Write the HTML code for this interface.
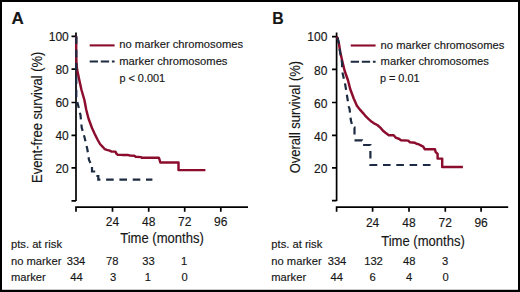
<!DOCTYPE html>
<html><head><meta charset="utf-8">
<style>
html,body{margin:0;padding:0;background:#fff;}
body{width:520px;height:292px;overflow:hidden;}
svg{display:block;font-family:"Liberation Sans",sans-serif;}
text{fill:#161616;stroke:#161616;stroke-width:0.15px;}
.tk{font-size:12px;}
.tt{font-size:14.5px;}
.lg{font-size:11.2px;}
.rk{font-size:11.2px;}
.pl{font-size:17px;font-weight:bold;}
.ax{stroke:#000;stroke-width:1.7;fill:none;}
</style></head>
<body>
<svg width="520" height="292" viewBox="0 0 520 292">
<rect x="0" y="0" width="520" height="292" fill="#fff"/>

<!-- ================= PANEL A ================= -->
<text class="pl" x="11.5" y="23.8">A</text>

<path class="ax" d="M76,32.5 V201 M71.5,36.3 H76 M71.5,69.2 H76 M71.5,102.5 H76 M71.5,135.4 H76 M71.5,167.8 H76 M71.5,200.9 H76"/>
<path class="ax" d="M76,211.8 V207.2 H248 M112.5,207.2 V211.8 M148.7,207.2 V211.8 M184.7,207.2 V211.8 M220.8,207.2 V211.8"/>

<path d="M76.20,36.30 L76.20,55.00 L76.60,65.00 L77.10,69.60 L79.30,80.00 L81.50,90.00 L84.40,100.00 L86.30,110.00 L88.50,118.50 L92.00,128.00 L94.50,133.50 L97.50,139.50 L100.00,144.00 L102.70,146.80 L104.80,149.20 L106.80,149.90 L109.60,150.60 L111.60,151.60 L115.40,151.60 L116.40,153.60 L117.50,154.70 L121.90,154.90 L127.40,154.90 L130.00,155.50 L134.20,155.70 L135.70,156.80 L141.10,157.10 L141.80,157.80 L158.80,157.80 L159.50,159.50 L160.30,162.40 L178.50,162.40 L178.50,170.10 L205.40,170.10" fill="none" stroke="#8c0c2e" stroke-width="2.45" stroke-linejoin="round"/>
<path d="M76.30,36.50 L76.30,44.10 M76.30,49.80 L76.30,57.40 M76.30,63.10 L76.30,70.70 M76.30,76.40 L76.30,84.00 M76.30,89.70 L76.30,97.30 M77.30,102.00 L78.30,106.00 L78.81,108.09 M79.93,112.67 L80.50,115.00 L80.91,119.29 M81.41,124.49 L81.70,127.50 L82.66,130.84 M83.92,135.28 L84.70,138.00 L85.48,141.32 M86.57,145.93 L87.30,149.00 L87.81,152.29 M88.57,157.23 L89.00,160.00 L90.47,162.93 M92.00,167.10 L92.00,171.50 L95.20,171.50 M96.40,176.00 L98.30,176.00 L98.30,179.60 L100.40,179.60 M106.10,179.60 L113.70,179.60 M119.40,179.60 L127.00,179.60 M132.70,179.60 L140.30,179.60 M146.00,179.60 L152.40,179.60" fill="none" stroke="#1c2b42" stroke-width="2.2" stroke-linejoin="miter"/>

<g class="tk" text-anchor="end">
<text x="68.8" y="41">100</text>
<text x="68.8" y="74.1">80</text>
<text x="68.8" y="107.4">60</text>
<text x="68.8" y="140.4">40</text>
<text x="68.8" y="172.7">20</text>
</g>
<g class="tk" text-anchor="middle">
<text x="112.5" y="225.7">24</text>
<text x="148.7" y="225.7">48</text>
<text x="184.7" y="225.7">72</text>
<text x="220.8" y="225.7">96</text>
</g>
<text class="tt" transform="translate(162,243.2) scale(0.9,1)" text-anchor="middle">Time (months)</text>
<text class="tt" transform="translate(41.8,117.3) rotate(-90) scale(0.897,1)" text-anchor="middle">Event-free survival (%)</text>

<line x1="89.7" y1="45.4" x2="114.6" y2="45.4" stroke="#8c0c2e" stroke-width="2.1"/>
<line x1="89.7" y1="61.5" x2="114.6" y2="61.5" stroke="#1c2b42" stroke-width="2.1" stroke-dasharray="8.3 2.8"/>
<g class="lg">
<text x="119.3" y="48">no marker chromosomes</text>
<text x="119.3" y="65">marker chromosomes</text>
<text x="119.4" y="82.2" style="font-size:10.9px">p &lt; 0.001</text>
</g>

<g class="rk">
<text x="11" y="247.7">pts. at risk</text>
<text x="11" y="264.5">no marker</text>
<text x="11" y="281.2">marker</text>
</g>
<g class="rk" text-anchor="middle">
<text x="76" y="264.5">334</text>
<text x="112.3" y="264.5">78</text>
<text x="148.5" y="264.5">33</text>
<text x="184.1" y="264.5">1</text>
<text x="76.6" y="281.2">44</text>
<text x="113.1" y="281.2">3</text>
<text x="147.9" y="281.2">1</text>
<text x="184.5" y="281.2">0</text>
</g>

<!-- ================= PANEL B ================= -->
<text class="pl" transform="translate(272.3,23.8) scale(0.93,1)">B</text>

<path class="ax" d="M336.6,32.5 V201 M332,36.6 H336.6 M332,69.4 H336.6 M332,102.5 H336.6 M332,135.4 H336.6 M332,167.8 H336.6 M332,200.7 H336.6"/>
<path class="ax" d="M336.6,211.8 V207.2 H508.2 M372.6,207.2 V211.8 M409,207.2 V211.8 M445.3,207.2 V211.8 M481.1,207.2 V211.8"/>

<path d="M336.60,36.60 L337.50,38.00 L339.00,44.00 L340.20,52.00 L342.50,62.00 L344.70,71.00 L347.90,80.00 L350.20,89.00 L353.70,98.50 L356.90,105.80 L360.20,109.90 L363.50,113.60 L365.10,115.60 L368.40,118.90 L371.70,121.80 L374.00,123.30 L377.30,125.00 L380.60,127.90 L383.00,130.70 L385.50,132.80 L388.80,135.30 L393.70,135.30 L395.80,137.70 L399.30,139.00 L400.90,140.20 L408.30,140.60 L410.00,142.30 L414.90,142.70 L416.50,143.80 L418.00,144.00 L420.30,145.20 L423.20,146.70 L424.70,149.20 L435.00,149.20 L435.50,151.80 L437.10,153.40 L437.60,154.00 L437.60,158.60 L442.20,158.60 L442.20,167.00 L462.90,167.00" fill="none" stroke="#8c0c2e" stroke-width="2.45" stroke-linejoin="round"/>
<path d="M337.52,37.58 L338.94,43.76 M339.68,48.72 L340.30,53.00 L340.71,55.29 M341.57,60.12 L342.00,62.50 L342.15,67.15 M342.43,72.57 L343.86,78.74 M344.93,83.37 L345.30,85.00 L346.07,89.83 M346.84,94.76 L347.20,97.00 L347.93,101.27 M348.75,106.15 L348.90,107.00 L349.60,109.00 L349.98,112.52 M350.54,117.66 L350.80,120.00 L351.85,123.95 M354.00,127.50 L354.50,127.50 L354.50,134.60 M354.50,140.30 L362.00,140.30 L362.00,140.40 M363.10,145.00 L370.40,145.00 L370.40,145.30 M370.40,151.00 L370.40,158.60 M370.40,164.30 L370.40,165.00 L377.30,165.00 M383.00,165.00 L390.60,165.00 M396.30,165.00 L403.90,165.00 M409.60,165.00 L417.20,165.00 M422.90,165.00 L430.50,165.00" fill="none" stroke="#1c2b42" stroke-width="2.2" stroke-linejoin="miter"/>

<g class="tk" text-anchor="end">
<text x="327.4" y="41.4">100</text>
<text x="327.4" y="74.6">80</text>
<text x="327.4" y="107.8">60</text>
<text x="327.4" y="140.8">40</text>
<text x="327.4" y="173.1">20</text>
</g>
<g class="tk" text-anchor="middle">
<text x="372.6" y="227.3">24</text>
<text x="409" y="227.3">48</text>
<text x="445.3" y="227.3">72</text>
<text x="481.1" y="227.3">96</text>
</g>
<text class="tt" transform="translate(423,246.1) scale(0.9,1)" text-anchor="middle">Time (months)</text>
<text class="tt" transform="translate(300,117.1) rotate(-90) scale(0.895,1)" text-anchor="middle">Overall survival (%)</text>

<line x1="350.7" y1="45.5" x2="375.6" y2="45.5" stroke="#8c0c2e" stroke-width="2.1"/>
<line x1="350.7" y1="61.7" x2="375.6" y2="61.7" stroke="#1c2b42" stroke-width="2.1" stroke-dasharray="8.3 2.8"/>
<g class="lg">
<text x="380.6" y="48.5">no marker chromosomes</text>
<text x="380.6" y="65.2">marker chromosomes</text>
<text x="379.9" y="81.9" style="font-size:10.9px">p = 0.01</text>
</g>

<g class="rk">
<text x="271.3" y="247.7">pts. at risk</text>
<text x="271.3" y="264.5">no marker</text>
<text x="271.3" y="281.2">marker</text>
</g>
<g class="rk" text-anchor="middle">
<text x="337" y="264.5">334</text>
<text x="373.5" y="264.5">132</text>
<text x="409.2" y="264.5">48</text>
<text x="445.2" y="264.5">3</text>
<text x="336.8" y="281.2">44</text>
<text x="372.5" y="281.2">6</text>
<text x="409" y="281.2">4</text>
<text x="445.6" y="281.2">0</text>
</g>

<rect x="0" y="0" width="520" height="2" fill="#000"/>
<rect x="0" y="0" width="2" height="292" fill="#000"/>
<rect x="518" y="0" width="2" height="292" fill="#000"/>
<rect x="0" y="289.8" width="520" height="2.2" fill="#000"/>
</svg>
</body></html>
